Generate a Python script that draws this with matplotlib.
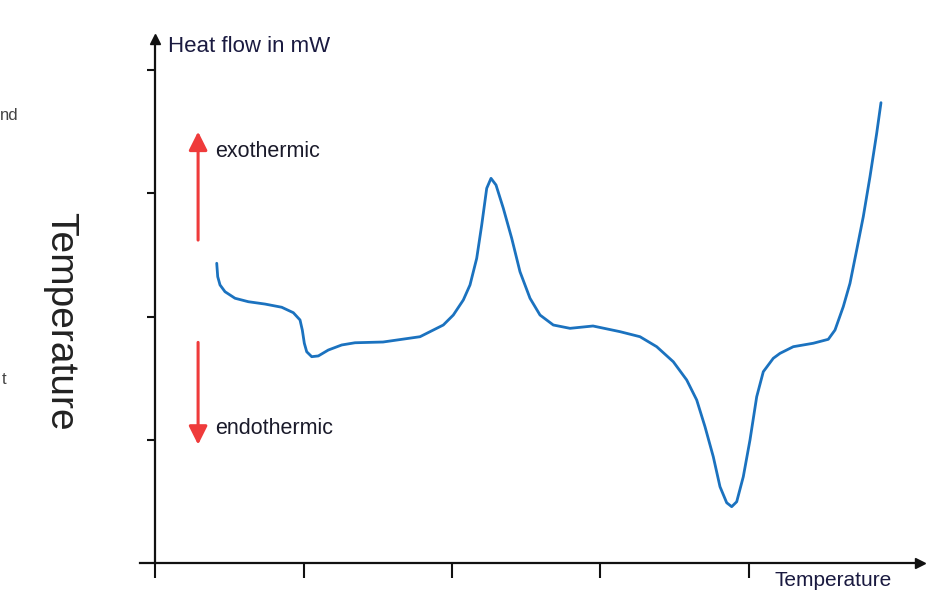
import matplotlib
matplotlib.use('Agg')
import matplotlib.pyplot as plt

# DSC curve (temperature units, heat flow units)
temp = [0.4155, 0.4222, 0.4377, 0.4714, 0.5387, 0.6283, 0.7407, 0.8532, 0.9313,
        0.9764, 0.9919, 1.0054, 1.0215, 1.0552, 1.0997, 1.1670, 1.2572, 1.3468,
        1.5354, 1.7845, 1.9414, 2.0088, 2.0761, 2.1212, 2.1663, 2.2000, 2.2337,
        2.2626, 2.2963, 2.3455, 2.4020, 2.4579, 2.5253, 2.5926, 2.6822, 2.7946,
        2.9495, 3.1313, 3.2660, 3.3785, 3.4902, 3.5805, 3.6478, 3.7037, 3.7596,
        3.8047, 3.8498, 3.8835, 3.9172, 3.9616, 4.0067, 4.0519, 4.0963, 4.1636,
        4.2088, 4.2983, 4.4330, 4.5340, 4.5791, 4.6350, 4.6801, 4.7253, 4.7697,
        4.8148, 4.8599, 4.8889]
heat = [2.432, 2.323, 2.256, 2.201, 2.148, 2.120, 2.101, 2.075, 2.031,
        1.972, 1.890, 1.783, 1.714, 1.674, 1.680, 1.728, 1.769, 1.787,
        1.793, 1.836, 1.931, 2.012, 2.134, 2.256, 2.472, 2.742, 3.040,
        3.121, 3.067, 2.878, 2.635, 2.363, 2.148, 2.012, 1.931, 1.904,
        1.923, 1.877, 1.836, 1.755, 1.633, 1.485, 1.323, 1.106, 0.862,
        0.619, 0.489, 0.457, 0.497, 0.700, 0.998, 1.349, 1.552, 1.661,
        1.701, 1.755, 1.783, 1.815, 1.890, 2.080, 2.269, 2.540, 2.810,
        3.134, 3.486, 3.735]

x_ticks = [0, 1, 2, 3, 4]
y_ticks = [1, 2, 3, 4]

BLUE = '#1b72bf'
RED = '#ef3b3b'
FONT = 'Liberation Sans'

fig = plt.figure(figsize=(9.45, 6.07), dpi=100)
ax = fig.add_axes([0, 0, 1, 1])
ax.set_xlim(-1.044, 5.320)
ax.set_ylim(-0.357, 4.568)

ax.plot(temp, heat, color=BLUE, lw=2.0, solid_joinstyle='round',
        solid_capstyle='round')

# axes drawn as arrows through the origin
for side in ['top', 'right']:
    ax.spines[side].set_visible(False)
ax.spines['left'].set_position(('data', 0))
ax.spines['bottom'].set_position(('data', 0))
ax.spines['left'].set_bounds(0, 4.25)
ax.spines['bottom'].set_bounds(-0.1, 5.15)
for side in ['left', 'bottom']:
    ax.spines[side].set_linewidth(1.6)
    ax.spines[side].set_color('#111111')
ax.plot(0, 4.25, marker='^', ms=7, color='#111111', clip_on=False)
ax.plot(5.15, 0, marker='>', ms=7, color='#111111', clip_on=False)

ax.set_xticks(x_ticks)
ax.set_yticks(y_ticks)
ax.set_xticklabels([])
ax.set_yticklabels([])
ax.tick_params(axis='x', direction='out', length=11, width=1.5, color='#111111')
ax.tick_params(axis='y', direction='out', length=6, width=1.5, color='#111111')
ax.patch.set_visible(False)

# axis labels
ax.text(0.0875, 4.187, 'Heat flow in mW', fontsize=16, family=FONT,
        color='#1a1a40', ha='left', va='center')
ax.text(4.175, -0.146, 'Temperature', fontsize=15, family=FONT,
        color='#1a1a40', ha='left', va='center')

# exo / endo arrows
ax.annotate('', xy=(0.29, 3.50), xytext=(0.29, 2.62),
            arrowprops=dict(arrowstyle='-|>', color=RED, lw=2.2,
                            mutation_scale=28, shrinkA=0, shrinkB=0))
ax.annotate('', xy=(0.29, 0.96), xytext=(0.29, 1.79),
            arrowprops=dict(arrowstyle='-|>', color=RED, lw=2.2,
                            mutation_scale=28, shrinkA=0, shrinkB=0))
ax.text(0.404, 3.335, 'exothermic', fontsize=15.5, family=FONT,
        color='#1a1a2a', ha='left', va='center')
ax.text(0.404, 1.095, 'endothermic', fontsize=15.5, family=FONT,
        color='#1a1a2a', ha='left', va='center')

# big rotated label and cut-off fragments at the left edge
fig.text(60 / 945, 1 - 321 / 607, 'Temperature', fontsize=28, family=FONT,
         color='#222222', rotation=-90, ha='center', va='center')
fig.text(0.0, 1 - 115 / 607, 'nd', fontsize=12, family=FONT,
         color='#444444', ha='left', va='center')
fig.text(0.002, 1 - 380 / 607, 't', fontsize=12, family=FONT,
         color='#444444', ha='left', va='center')

fig.savefig('out.png', dpi=100)
